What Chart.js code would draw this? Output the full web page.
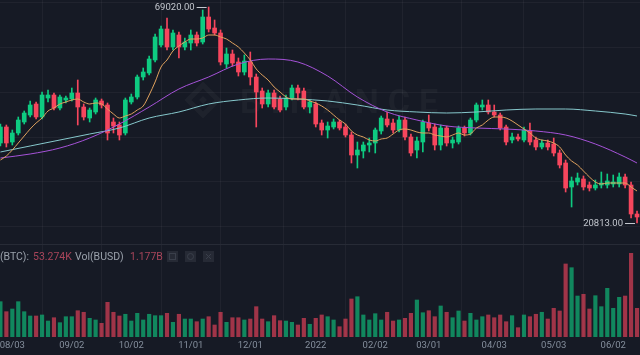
<!DOCTYPE html>
<html><head><meta charset="utf-8">
<script src="https://cdn.jsdelivr.net/npm/chart.js@4/dist/chart.umd.min.js"></script>
<style>html,body{margin:0;padding:0;background:#161a25;overflow:hidden}#wrap{width:640px;height:355px;position:relative}</style>
</head><body><div id="wrap"><canvas id="c" width="640" height="355"></canvas></div>
<script>
const dates = ['07/28','07/31','08/03','08/06','08/09','08/12','08/15','08/18','08/21','08/24','08/27','08/30',
'09/02','09/05','09/08','09/11','09/14','09/17','09/20','09/23','09/26','09/29',
'10/02','10/05','10/08','10/11','10/14','10/17','10/20','10/23','10/26','10/29',
'11/01','11/04','11/07','11/10','11/13','11/16','11/19','11/22','11/25','11/28',
'12/01','12/04','12/07','12/10','12/13','12/16','12/19','12/22','12/25','12/28','12/31',
'01/03','01/06','01/09','01/12','01/15','01/18','01/21','01/24','01/27','01/30',
'02/02','02/05','02/08','02/11','02/14','02/17','02/20','02/23','02/26',
'03/01','03/04','03/07','03/10','03/13','03/16','03/19','03/22','03/25','03/28','03/31',
'04/03','04/06','04/09','04/12','04/15','04/18','04/21','04/24','04/27','04/30',
'05/03','05/06','05/09','05/12','05/15','05/18','05/21','05/24','05/27','05/30',
'06/02','06/05','06/08','06/11','06/14'];

const open = [38664,42236,38888,40896,43352,44914,47369,44468,48708,49378,
46476,48262,48485,49824,46700,44244,45584,48039,47146,43352,
42682,40896,47816,48932,53396,54288,57190,60538,64109,60092,
62770,60092,60984,62770,61208,66788,64332,63216,56297,58529,
56744,54512,56744,53396,50271,47369,49824,48485,46700,48708,
50940,50271,46700,47369,43128,41566,42236,43352,42236,40450,
35986,36879,38218,38664,41343,44021,43128,41566,43798,40004,
37102,38888,43128,42236,38218,42012,38664,38888,42012,40896,
43798,46700,47146,45584,44914,42236,39334,40004,39334,41343,
39334,37772,38664,38441,36432,34200,28844,29960,30629,29290,
28620,29290,29290,29513,29513,31076,29290,22817];
const high = [42905,42682,41566,44468,45807,48039,47816,50048,50494,49824,
49378,49155,50940,52726,47369,46476,48708,48485,47592,44244,
43352,48708,49601,53842,55404,58083,62993,64779,66564,63886,
63440,62100,63886,63440,68350,69020,66118,63886,59868,59422,
57636,58306,58976,54065,50940,50494,50494,49155,49378,51610,
51610,50940,48262,47816,43798,43352,44021,43798,42905,41120,
38888,38888,39780,42012,44691,45584,44021,44691,44468,40673,
40004,43798,44914,42905,42682,42459,40004,42459,42459,44244,
47592,48262,48262,47146,45360,42682,40896,40673,42236,43128,
40004,39334,39334,39780,37102,34870,31076,31968,31299,29960,
30406,32192,31745,31522,31968,31745,29960,23487];
const low = [37995,37772,38218,40450,42905,44468,44021,44021,47816,46030,
46030,47592,48039,42682,43798,43352,45137,46476,39334,40896,
39334,40450,47369,48485,52726,53842,56744,60092,59422,59422,
57636,59422,59422,60315,60761,63440,62770,56074,55404,55851,
53619,53842,51610,42236,46476,46700,46253,45584,46030,48262,
48262,46253,45360,42236,40450,39780,41789,41566,40004,34200,
33084,35316,36656,36432,40673,42236,40896,41120,39334,35763,
35316,36656,41343,37102,37102,37995,37548,38441,40227,40450,
43352,46030,45137,44468,41566,38218,38664,39111,38888,38218,
37102,37325,37102,35763,33084,27728,24380,29290,28174,27951,
28174,28620,28620,28844,28844,28620,21925,20813];
const close = [42236,38664,40896,43798,45360,47146,44468,49378,49378,46476,
48932,48708,49824,46700,44468,46030,48262,47146,40896,42459,
40450,48262,48932,53396,54512,57413,62324,64109,60092,63216,
60092,61208,62770,60984,66788,64109,63216,56744,58529,56520,
54512,56967,53396,50048,47369,49824,46700,46030,48708,50940,
49824,46700,47816,42905,41566,42459,43352,42012,40450,35986,
37102,38218,38664,41566,44244,42682,41566,43798,40004,36432,
39111,43352,42012,38218,42012,38664,39334,42012,40896,43798,
47146,47146,45584,44914,42012,38888,40004,39557,41566,38888,
37772,38664,37772,36432,33754,28620,30183,30852,28844,28620,
29290,29736,30183,29960,31076,29290,22817,22148];
// base-asset volume, thousands of BTC
const volume = [65.6,47.0,52.0,65.6,47.0,39.0,39.0,40.9,29.7,35.8,
26.6,37.7,37.7,48.8,45.9,34.7,31.6,25.4,64.4,45.9,
39.0,42.2,29.7,44.0,31.6,42.2,39.6,39.6,44.0,27.3,
42.2,33.4,33.4,28.4,33.4,37.7,22.3,45.9,27.3,35.8,
35.8,31.6,33.4,56.3,33.4,28.4,39.6,30.3,29.7,27.3,
22.3,34.7,23.6,34.7,40.9,37.7,31.6,19.1,33.4,70.6,
74.8,40.9,31.6,43.3,31.6,45.9,29.7,31.6,34.7,44.0,
68.7,45.1,48.8,37.7,57.6,45.9,35.8,48.3,29.7,44.0,
31.6,37.7,40.9,35.8,40.9,28.4,39.6,17.3,40.9,37.7,
42.2,45.9,33.4,53.3,48.3,135.6,128.7,76.1,79.3,52.0,
76.7,56.3,90.4,53.3,73.7,76.1,155.4,53.274];
const quoteVolLastB = 1.177;

const ma7 = [34870,35763,37102,38664,40227,41789,43128,44244,45807,46476,
47369,47816,48262,48485,47816,47369,47592,47369,46253,45137,
44244,44691,45137,46030,46923,49378,52280,55628,57190,59199,
60315,61208,61877,61877,62100,62770,62770,62324,61877,60984,
60092,58752,57190,55181,53842,52726,51164,50048,48932,48485,
48485,48485,48039,47592,46923,46030,44914,43798,42905,41343,
40450,40004,39334,39111,39557,39780,40673,41566,41789,41566,
41120,40896,40896,40450,40227,40004,40450,40896,40450,40673,
42012,42682,43798,44468,44468,44244,43575,42682,41789,40896,
39780,39334,39111,38664,37772,35986,34647,33754,32415,31076,
29960,29513,29736,29736,29736,29736,28844,27951];
const maSampleIdx = [0,5,10,15,20,25,30,35,40,45,50,55,60,65,70,75,80,85,90,95,100,105,107];
const ma25 = [35316,36209,37548,39780,42905,46700,50717,53396,56297,57413,56744,53619,48932,45584,43798,42459,42012,41789,41343,40450,38441,35540,34200];
const ma99 = [36656,37995,39334,40673,42012,44244,45584,47369,48262,48708,48485,48039,47146,46030,45584,45360,45584,46030,46253,46253,45807,45137,44691];

const tickIdx = [2,12,22,32,42,53,63,72,83,93,103];
const tickLabels = ['08/03','09/02','10/02','11/01','12/01','2022','02/02','03/01','04/03','05/03','06/02'];
const priceGrid = [20000,30000,40000,50000,60000,70000];

const BG = '#161a25';
const UP = '#0ecb81', DOWN = '#f6465d';
const UPV = 'rgba(14,203,129,0.62)', DOWNV = 'rgba(246,70,93,0.62)';
const GRID = 'rgba(255,255,255,0.045)';
const FONT = 'Roboto, "Noto Sans", sans-serif';

const up = open.map((o,i)=> close[i] >= o);
const cColors = up.map(u => u ? UP : DOWN);
const vColors = up.map(u => u ? UPV : DOWNV);

const bgPlugin = {
  id: 'bgw',
  beforeDraw(chart) {
    const c = chart.ctx;
    c.save();
    c.fillStyle = BG;
    c.fillRect(0, 0, chart.width, chart.height);
    // watermark
    c.fillStyle = 'rgba(255,255,255,0.035)';
    c.strokeStyle = 'rgba(255,255,255,0.035)';
    const cx = 203, cy = 100;
    c.lineWidth = 5;
    c.beginPath();
    c.moveTo(cx, cy-15); c.lineTo(cx+15, cy); c.lineTo(cx, cy+15); c.lineTo(cx-15, cy); c.closePath();
    c.stroke();
    c.beginPath();
    c.moveTo(cx, cy-4); c.lineTo(cx+4, cy); c.lineTo(cx, cy+4); c.lineTo(cx-4, cy); c.closePath();
    c.fill();
    c.font = 'bold 34px ' + FONT;
    try { c.letterSpacing = '9px'; } catch(e) {}
    c.textBaseline = 'alphabetic';
    c.fillText('BINANCE', 240, 113);
    c.restore();
  },
  afterDraw(chart) {
    const c = chart.ctx;
    const xs = chart.scales.x, ys = chart.scales.y;
    c.save();
    // pane separator
    c.strokeStyle = '#272b36';
    c.lineWidth = 1;
    c.beginPath(); c.moveTo(0, 244.5); c.lineTo(640, 244.5); c.stroke();
    // x labels
    c.fillStyle = '#848e9c';
    c.font = '9.5px ' + FONT;
    c.textAlign = 'center';
    c.textBaseline = 'middle';
    tickIdx.forEach((ix, k) => c.fillText(tickLabels[k], xs.getPixelForValue(ix), 346));
    // high / low markers
    let hi = 0, lo = 0;
    high.forEach((v,i)=>{ if (v > high[hi]) hi = i; });
    low.forEach((v,i)=>{ if (v < low[lo]) lo = i; });
    c.font = '9.5px ' + FONT;
    c.fillStyle = '#c3c7ce';
    c.strokeStyle = '#c3c7ce';
    c.textAlign = 'right';
    [[hi, high[hi]], [lo, low[lo]]].forEach(([ix, v]) => {
      const px = xs.getPixelForValue(ix), py = Math.round(ys.getPixelForValue(v)) + 0.5;
      c.beginPath(); c.moveTo(px - 12, py); c.lineTo(px - 2, py); c.stroke();
      c.fillText(v.toFixed(2), px - 14, py);
    });
    // volume legend
    c.textAlign = 'left';
    c.font = '10.5px ' + FONT;
    c.fillStyle = '#9aa1ab';
    c.fillText('(BTC):', 0, 257);
    c.fillText('Vol(BUSD)', 75, 257);
    const lastUp = up[up.length-1];
    c.fillStyle = lastUp ? '#2a9a6e' : '#a8455a';
    c.fillText(volume[volume.length-1].toFixed(3) + 'K', 33, 257);
    c.fillText(quoteVolLastB.toFixed(3) + 'B', 130, 257);
    // legend icons
    c.fillStyle = '#262a35';
    [167, 185, 203].forEach(x => c.fillRect(x, 251, 11, 11));
    c.strokeStyle = '#3a3f4b';
    c.lineWidth = 1;
    c.strokeRect(169.5, 253.5, 6, 6);
    c.beginPath(); c.arc(190.5, 256.5, 3, 0, Math.PI*2); c.stroke();
    c.beginPath(); c.moveTo(206, 254); c.lineTo(211, 259); c.moveTo(211, 254); c.lineTo(206, 259); c.stroke();
    c.restore();
  }
};

new Chart(document.getElementById('c'), {
  type: 'bar',
  data: {
    datasets: [
      { type: 'line', label: 'MA(7)', data: ma7.map((v,i)=>({x:i, y:v})), yAxisID: 'y',
        borderColor: '#e0a25e', borderWidth: 1, pointRadius: 0, tension: 0.35, cubicInterpolationMode: 'monotone', order: 1 },
      { type: 'line', label: 'MA(25)', data: maSampleIdx.map((ix,k)=>({x:ix, y:ma25[k]})), yAxisID: 'y',
        borderColor: '#a552d8', borderWidth: 1, pointRadius: 0, cubicInterpolationMode: 'monotone', order: 1 },
      { type: 'line', label: 'MA(99)', data: maSampleIdx.map((ix,k)=>({x:ix, y:ma99[k]})), yAxisID: 'y',
        borderColor: '#86c8cc', borderWidth: 1, pointRadius: 0, cubicInterpolationMode: 'monotone', order: 1 },
      { type: 'bar', label: 'body', data: open.map((o,i)=>({x:i, y:[o, close[i]]})), yAxisID: 'y',
        backgroundColor: cColors, barThickness: 4, grouped: false, minBarLength: 1, order: 2 },
      { type: 'bar', label: 'wick', data: high.map((h,i)=>({x:i, y:[low[i], h]})), yAxisID: 'y',
        backgroundColor: cColors, barThickness: 1, grouped: false, order: 3 },
      { type: 'bar', label: 'vol', data: volume.map((v,i)=>({x:i, y:v})), yAxisID: 'yv',
        backgroundColor: vColors, barThickness: 3.5, grouped: false, order: 4 }
    ]
  },
  options: {
    responsive: false,
    animation: false,
    events: [],
    layout: { padding: { left: 0, right: 0, top: 0, bottom: 18 } },
    plugins: { legend: { display: false }, tooltip: { enabled: false } },
    scales: {
      x: { type: 'linear', min: -0.07, max: 107.5, offset: false,
        afterBuildTicks: s => { s.ticks = tickIdx.map(v => ({ value: v })); },
        ticks: { display: false }, grid: { color: GRID, drawTicks: false }, border: { display: false } },
      y: { type: 'linear', position: 'right', min: -4636, max: 70582,
        afterBuildTicks: s => { s.ticks = priceGrid.map(v => ({ value: v })); },
        ticks: { display: false }, grid: { color: GRID, drawTicks: false }, border: { display: false } },
      yv: { type: 'linear', min: 0, max: 625.8, display: false }
    }
  },
  plugins: [bgPlugin]
});
</script>
</body></html>
